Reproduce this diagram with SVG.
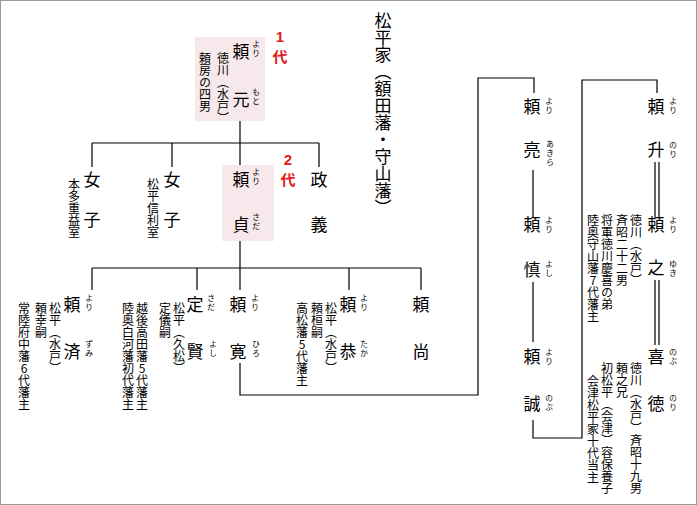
<svg xmlns="http://www.w3.org/2000/svg" width="697" height="505" viewBox="0 0 697 505">
<style>
text{font-family:"Noto Sans CJK JP","Noto Sans",sans-serif;fill:#000}
.n{font-size:17px;text-anchor:middle}
.r{font-size:8px;writing-mode:vertical-rl;text-orientation:upright;letter-spacing:1px}
.v{font-size:12px;writing-mode:vertical-rl;text-orientation:upright}
.t{font-size:17px;writing-mode:vertical-rl;text-orientation:upright}
.g{font-size:15px;font-weight:bold;fill:#e02020;text-anchor:middle;font-family:"Liberation Sans","Noto Sans CJK JP",sans-serif}
.box{fill:#f7e9eb}
.l{fill:none;stroke:#000;stroke-width:1.2}
</style>
<rect x="0.5" y="0.5" width="696" height="504" fill="#fff" stroke="#999"/>
<g id="title"><text class="t" x="383" y="12">松平家（額田藩・守山藩）</text></g>
<g id="connectors" class="l">
<path d="M240 120V143M92 143H319M92 143V167M172 143V167M240 143V165M319 143V167"/>
<path d="M240 240V268M92 268H421M92 268V290M197 268V290M240 268V290M349 268V290M421 268V290"/>
<path d="M240 363V395H478V78H534V93"/>
<path d="M533 170V218M533 282V342"/>
<path d="M533 420V438H582V80H657V93"/>
<path d="M655 162V218M659 162V218M655 280V345M659 280V345"/>
</g>
<g id="n-yorimoto"><rect class="box" x="195" y="37" width="70" height="84"/>
<text class="n" x="241" y="58">頼</text><text class="n" x="241" y="106">元</text>
<text class="r" x="256" y="40">より</text><text class="r" x="256" y="88">もと</text>
<text class="v" x="223" y="52">徳川（水戸）</text><text class="v" x="205" y="52">頼房の四男</text>
<text class="g" x="280" y="42">1</text><text class="g" x="280" y="62">代</text></g>
<g id="n-onna1"><text class="n" x="92" y="186">女</text><text class="n" x="92" y="226">子</text><text class="v" x="74" y="178">本多重益室</text></g>
<g id="n-onna2"><text class="n" x="172" y="186">女</text><text class="n" x="172" y="226">子</text><text class="v" x="153" y="178">松平信利室</text></g>
<g id="n-yorisada"><rect class="box" x="222" y="165" width="52" height="76"/>
<text class="n" x="241" y="186">頼</text><text class="n" x="241" y="231">貞</text>
<text class="r" x="256" y="168">より</text><text class="r" x="256" y="213">さだ</text>
<text class="g" x="288" y="165">2</text><text class="g" x="288" y="185">代</text></g>
<g id="n-masayoshi"><text class="n" x="319" y="186">政</text><text class="n" x="319" y="231">義</text></g>
<g id="n-yorizumi"><text class="n" x="72" y="311">頼</text><text class="n" x="72" y="358">済</text>
<text class="r" x="89" y="294">より</text><text class="r" x="89" y="340">ずみ</text>
<text class="v" x="55" y="302">松平（水戸）</text><text class="v" x="41" y="302">頼幸嗣</text><text class="v" x="24" y="302">常陸府中藩6代藩主</text></g>
<g id="n-sadayoshi"><text class="n" x="195" y="311">定</text><text class="n" x="195" y="358">賢</text>
<text class="r" x="211" y="294">さだ</text><text class="r" x="213" y="340">よし</text>
<text class="v" x="179" y="302">松平（久松）</text><text class="v" x="165" y="302">定儀嗣</text><text class="v" x="142" y="302">越後高田藩5代藩主</text><text class="v" x="128" y="302">陸奥白河藩初代藩主</text></g>
<g id="n-yorihiro"><text class="n" x="238" y="311">頼</text><text class="n" x="238" y="358">寛</text>
<text class="r" x="255" y="294">より</text><text class="r" x="256" y="340">ひろ</text></g>
<g id="n-yoritaka"><text class="n" x="348" y="311">頼</text><text class="n" x="348" y="358">恭</text>
<text class="r" x="364" y="294">より</text><text class="r" x="364" y="340">たか</text>
<text class="v" x="331" y="302">松平（水戸）</text><text class="v" x="317" y="302">頼桓嗣</text><text class="v" x="302" y="302">高松藩5代藩主</text></g>
<g id="n-yorinao"><text class="n" x="421" y="311">頼</text><text class="n" x="421" y="358">尚</text></g>
<g id="n-yoriakira"><text class="n" x="532" y="113">頼</text><text class="n" x="532" y="156">亮</text>
<text class="r" x="549" y="97">より</text><text class="r" x="550" y="140">あきら</text></g>
<g id="n-yoriyoshi"><text class="n" x="532" y="231">頼</text><text class="n" x="532" y="276">慎</text>
<text class="r" x="549" y="216">より</text><text class="r" x="549" y="260">よし</text></g>
<g id="n-yorinobu"><text class="n" x="532" y="363">頼</text><text class="n" x="532" y="410">誠</text>
<text class="r" x="549" y="348">より</text><text class="r" x="549" y="394">のぶ</text></g>
<g id="n-yorinori"><text class="n" x="656" y="113">頼</text><text class="n" x="656" y="156">升</text>
<text class="r" x="673" y="97">より</text><text class="r" x="673" y="141">のり</text></g>
<g id="n-yoriyuki"><text class="n" x="656" y="231">頼</text><text class="n" x="656" y="274">之</text>
<text class="r" x="673" y="216">より</text><text class="r" x="673" y="260">ゆき</text>
<text class="v" x="636" y="214">徳川（水戸）</text><text class="v" x="622" y="214">斉昭二十二男</text><text class="v" x="607" y="214">将軍徳川慶喜の弟</text><text class="v" x="593" y="214">陸奥守山藩7代藩主</text></g>
<g id="n-nobunori"><text class="n" x="656" y="363">喜</text><text class="n" x="656" y="410">徳</text>
<text class="r" x="673" y="348">のぶ</text><text class="r" x="673" y="394">のり</text>
<text class="v" x="636" y="362">徳川（水戸）斉昭十九男</text><text class="v" x="622" y="362">頼之兄</text><text class="v" x="607" y="362">初松平（会津）容保養子</text><text class="v" x="593" y="375">会津松平家十代当主</text></g>
</svg>
